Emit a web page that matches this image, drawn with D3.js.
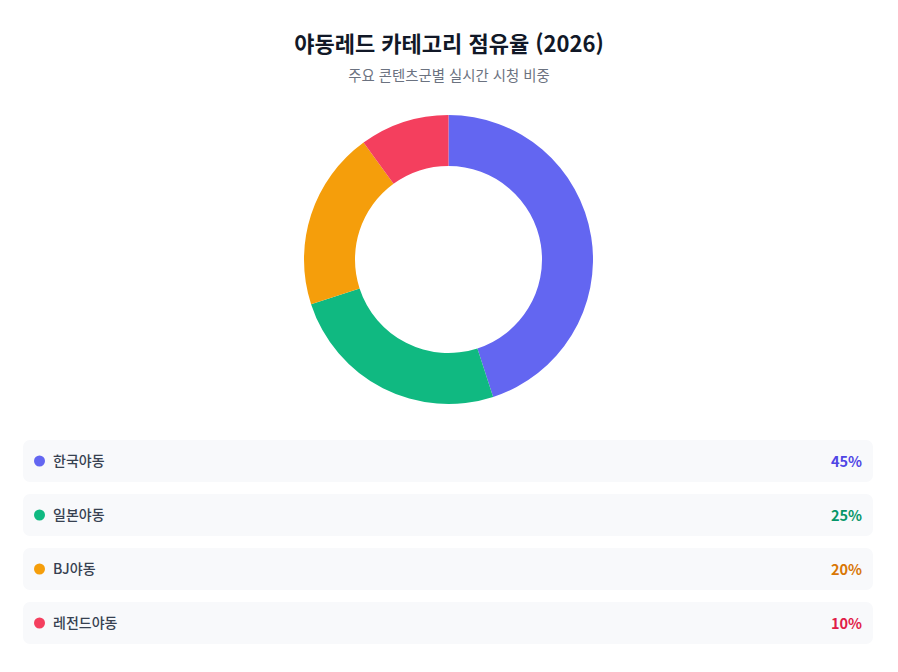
<!DOCTYPE html>
<html lang="ko">
<head>
<meta charset="utf-8">
<script src="https://cdn.jsdelivr.net/npm/d3@7"></script>
<style>
  html, body { margin: 0; padding: 0; background: #ffffff; }
  body { width: 898px; height: 672px; overflow: hidden; font-family: "Noto Sans CJK KR", "Noto Sans", sans-serif; }
</style>
</head>
<body>
<div id="chart"></div>
<script>
var categories = ['한국야동', '일본야동', 'BJ야동', '레전드야동'];
var shares = [45, 25, 20, 10];
var sliceColors = ['#6366f1', '#10b981', '#f59e0b', '#f43f5e'];
var valueColors = ['#4f46e5', '#059669', '#d97706', '#e11d48'];

var W = 898, H = 672;
var svg = d3.select('#chart').append('svg')
    .attr('width', W)
    .attr('height', H);

// title + subtitle
svg.append('text')
    .attr('x', W / 2)
    .attr('y', 52)
    .attr('text-anchor', 'middle')
    .style('font-size', '22px')
    .style('font-weight', 700)
    .style('fill', '#111827')
    .text('야동레드 카테고리 점유율 (2026)');

svg.append('text')
    .attr('x', W / 2)
    .attr('y', 81)
    .attr('text-anchor', 'middle')
    .style('font-size', '14.4px')
    .style('fill', '#6b7280')
    .text('주요 콘텐츠군별 실시간 시청 비중');

// donut
var data = categories.map(function(c, i) {
    return { name: c, value: shares[i], color: sliceColors[i], vcolor: valueColors[i] };
});

var pie = d3.pie().sort(null).value(function(d) { return d.value; });
var arc = d3.arc().innerRadius(93.5).outerRadius(144.5);

var g = svg.append('g').attr('transform', 'translate(448.5,259.5)');
g.selectAll('path')
    .data(pie(data))
    .enter().append('path')
    .attr('d', arc)
    .attr('fill', function(d) { return d.data.color; });

// legend rows
var rowY = d3.scaleBand()
    .domain(categories)
    .range([440, 644])
    .paddingInner(12 / 54)
    .paddingOuter(0);

var rows = svg.append('g').selectAll('g')
    .data(data)
    .enter().append('g')
    .attr('transform', function(d) { return 'translate(0,' + rowY(d.name) + ')'; });

rows.append('rect')
    .attr('x', 23)
    .attr('y', 0)
    .attr('width', 850)
    .attr('height', rowY.bandwidth())
    .attr('rx', 7)
    .attr('fill', '#f8f9fb');

rows.append('circle')
    .attr('cx', 39.5)
    .attr('cy', 21)
    .attr('r', 5.5)
    .attr('fill', function(d) { return d.color; });

rows.append('text')
    .attr('x', 53)
    .attr('y', 26)
    .style('font-size', '14px')
    .style('font-weight', 500)
    .style('fill', '#374151')
    .text(function(d) { return d.name; });

rows.append('text')
    .attr('x', 862)
    .attr('y', 26.5)
    .attr('text-anchor', 'end')
    .style('font-size', '14.5px')
    .style('font-weight', 700)
    .style('fill', function(d) { return d.vcolor; })
    .text(function(d) { return d.value + '%'; });
</script>
</body>
</html>
